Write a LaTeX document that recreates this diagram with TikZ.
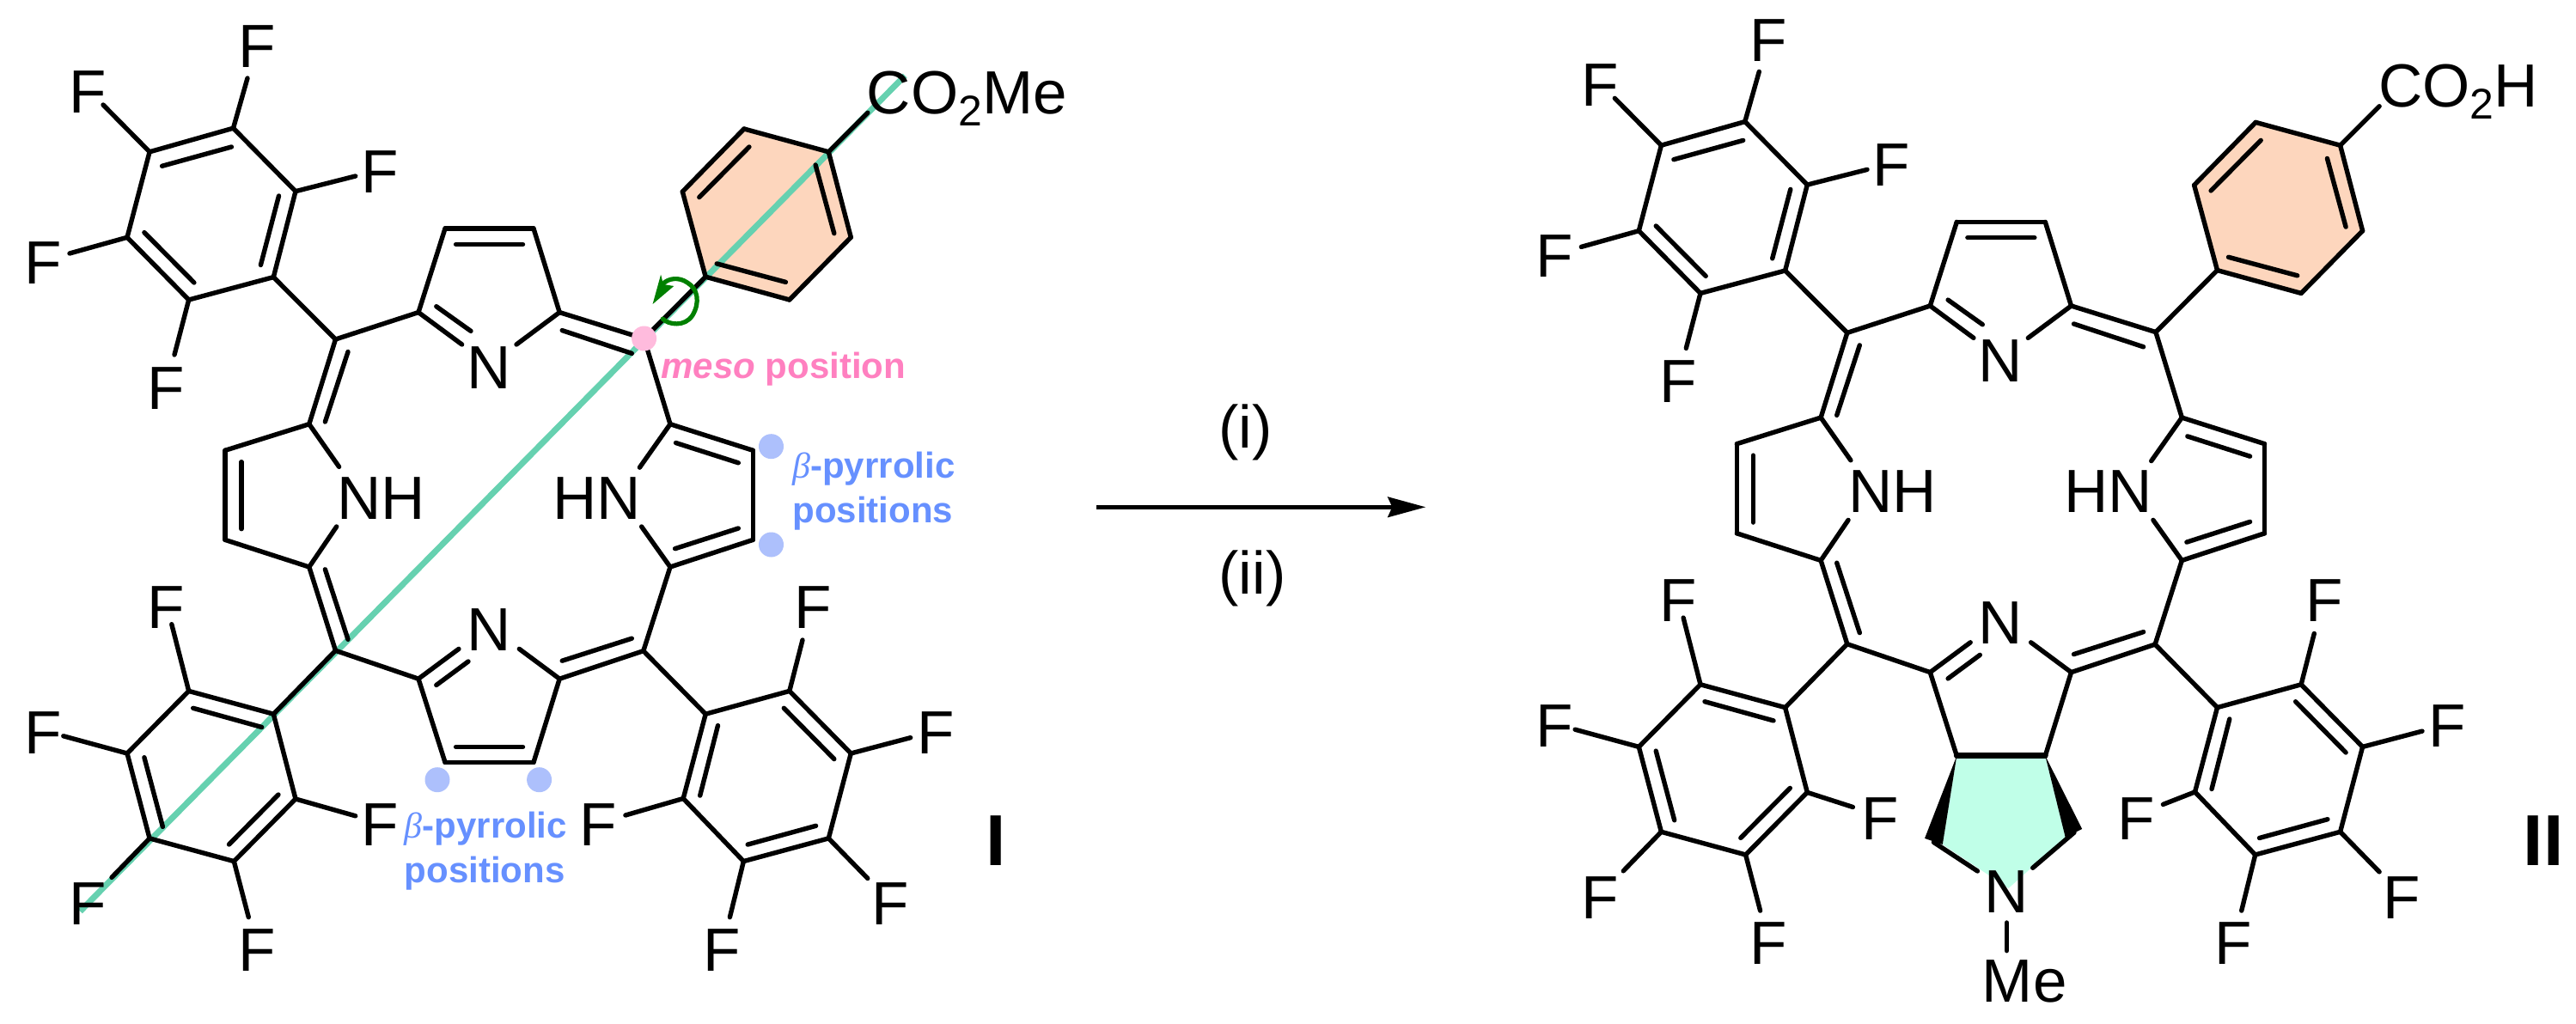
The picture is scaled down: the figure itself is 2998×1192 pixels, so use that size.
\documentclass[tikz,border=0pt]{standalone}
\usepackage{fontspec}
\setmainfont{Liberation Sans}
\newfontfamily\betafont{Liberation Serif}
\usetikzlibrary{arrows.meta}
\definecolor{tealline}{HTML}{66D1B0}
\definecolor{rotgreen}{HTML}{008000}
\definecolor{ringorange}{HTML}{FDD6BD}
\definecolor{ringmint}{HTML}{C0FFE8}
\definecolor{mesotext}{HTML}{FF80C0}
\definecolor{mesodot}{HTML}{FFBBDD}
\definecolor{betatext}{HTML}{6690FF}
\definecolor{betadot}{HTML}{ADC0FC}
\tikzset{
  bond/.style={line width=2.7pt,line cap=round,line join=round},
  atom/.style={inner sep=0pt,font=\fontsize{35.5}{40}\selectfont},
  atomtext/.style={atom,anchor=base west},
  tag/.style={inner sep=0pt,anchor=center,font=\fontsize{42}{48}\selectfont\bfseries},
  cond/.style={inner sep=0pt,anchor=base,font=\fontsize{35}{40}\selectfont},
  mesolabel/.style={inner sep=0pt,anchor=base west,text=mesotext,font=\fontsize{21}{26}\selectfont\bfseries},
  betalabel/.style={inner sep=0pt,anchor=north west,align=left,text=betatext,font=\fontsize{21}{26}\selectfont\bfseries},
  mesospot/.style={circle,fill=mesodot,inner sep=0pt,minimum size=14.5pt},
  betaspot/.style={circle,fill=betadot,inner sep=0pt,minimum size=14.5pt},
}
\newcommand\mybeta{{\betafont\itshape\mdseries β}}
\newcommand\porphatoms[1]{%
  \foreach \n/\x/\y in {
    a1/271.5/149.2,a2/344/222.7,a3/318.3/322.6,a4/219.7/349,a5/148/276.3,a6/174.1/176.8,
    eA1/288/91,eA6/120/122,eA2/413.7/205,eA5/81/295,eA4/203/413,
    FA1/299/54.5,FA6/102.4/107,FA2/442/200,FA5/49.7/306,FA4/193.6/451.6,
    m1/390.5/395,p1/487/363.6,p2/518/266,p3/621/266,p4/651.2/363.6,
    nP1/537.6/401,nP4/601/401,NP/568.7/428,
    b1/359.8/493.7,b2/262/524.3,b3/262/628.4,b4/359.8/660,
    nB1/394.6/543.4,nB4/391.7/613,NH/443.5/580,
    m2/390.5/757.3,
    c1/318.3/831.2,c2/219.7/804.4,c3/148/877,c4/174.1/975.9,c5/272.3/1002.6,c6/344/930,
    eC2/199.8/726.7,eC3/73.8/856.8,eC4/130/1021.4,eC5/289.3/1067.7,
    FC2/193.6/706.8,FC3/49.7/853,FC4/102.4/1052.4,FC5/299.3/1105.6,
    p5/487/790.2,p6/518/887.4,p7/621/887.4,p8/651.2/790.2,
    nQ5/533.9/755.4,nQ8/604.3/755.4,NQ/568.7/732.8,
    m3/749.6/394.2,m4/748.8/757.7,
    d1/821.2/322.2,d2/794.3/223.1,d3/865.9/150,d4/964.3/176.8,d5/990.3/276.3,d6/918.8/349,
    eD4/1009.8/131.3,
    e1/780/493.7,e2/876.3/524.3,e3/876.3/628.4,e4/780/660,
    nE1/744.4/544.2,nE4/746.6/613,HN/694.3/580,
    r1/821.2/831.2,r2/918.8/804.4,r3/990.3/877,r4/964.3/975.9,r5/865.4/1002.6,r6/795.2/929.5,
    eR2/934/745,eR3/1059.7/858.7,eR4/1009.8/1022.5,eR5/849.4/1067.7,
    FR2/945.7/706.8,FR3/1088.8/853,FR4/1036.3/1052.4,FR5/839.8/1105.6,
    iA1/188.6/193.3,iA2/269.4/171,iB1/324.5/228,iB2/303.4/308.5,iC1/167.9/270.6,iC2/225.9/329,
    iD1/507.8/356.7,iD2/548/385.4,iE1/530.6/284.4,iE2/608.5/284.4,
    iF1/405/409.5,iF2/378.4/491,iG1/281/537.7,iG2/281/615.7,iH1/378.4/662.8,iH2/405/744.3,
    iJ1/224.7/824.3,iJ2/304.7/846.5,iK1/167.9/881.7,iK2/189.4/962.4,iL1/266.5/983,iL2/324/925,
    iM1/507.8/797.5,iM2/545/770,
    iN1/654.2/384.6,iN2/735.3/411.4,iO1/813.8/229.6,iO2/871.9/171,iP1/949.1/192,iP2/970.8/271.7,
    iQ1/914.4/328.4,iQ2/834.2/306.9,iR1/786.5/515.5,iR2/859.3/538.8,iS1/785.6/638.7,iS2/859.3/615,
    iT1/654.2/769.2,iT2/735.3/743.2,
    iU1/912.3/824.3,iU2/970.8/883.6,iV1/949.6/961.3,iV2/870.2/983.1,iW1/814.7/926.1,iW2/835.5/844.6%
  }{\coordinate (#1\n) at (\x,\y);}%
}
\newcommand\porphbonds[1]{%
  \foreach \s/\t in {
    a1/a2,a2/a3,a3/a4,a4/a5,a5/a6,a6/a1,a1/eA1,a6/eA6,a2/eA2,a5/eA5,a4/eA4,a3/m1,
    m1/p1,p1/p2,p2/p3,p3/p4,p1/nP1,p4/nP4,p4/m3,
    m1/b1,b1/b2,b2/b3,b3/b4,b1/nB1,b4/nB4,b4/m2,m2/c1,m2/p5,
    c1/c2,c2/c3,c3/c4,c4/c5,c5/c6,c6/c1,c2/eC2,c3/eC3,c4/eC4,c5/eC5,
    p5/p6,p6/p7,p7/p8,p5/nQ5,p8/nQ8,p8/m4,
    m4/e4,e4/e3,e3/e2,e2/e1,e1/m3,e1/nE1,e4/nE4,
    m4/r1,r1/r2,r2/r3,r3/r4,r4/r5,r5/r6,r6/r1,r2/eR2,r3/eR3,r4/eR4,r5/eR5,
    d1/d2,d2/d3,d3/d4,d4/d5,d5/d6,d6/d1,m3/d1,d4/eD4,
    iA1/iA2,iB1/iB2,iC1/iC2,iD1/iD2,iE1/iE2,iF1/iF2,iG1/iG2,iH1/iH2,iJ1/iJ2,iK1/iK2,iL1/iL2,
    iM1/iM2,iN1/iN2,iO1/iO2,iP1/iP2,iQ1/iQ2,iR1/iR2,iS1/iS2,iT1/iT2,iU1/iU2,iV1/iV2,iW1/iW2%
  }{\draw[bond] (#1\s) -- (#1\t);}%
}
\newcommand\porphlabels[1]{%
  \foreach \f in {FA1,FA6,FA2,FA5,FA4,FC2,FC3,FC4,FC5,FR2,FR3,FR4,FR5}{%
    \node[atom] (#1lbl\f) at (#1\f) {F};}%
  \node[atom] (#1lblNP) at (#1NP) {N};
  \node[atom] (#1lblNQ) at (#1NQ) {N};
  \node[atom] (#1lblNH) at (#1NH) {NH};
  \node[atom] (#1lblHN) at (#1HN) {HN};
}
\begin{document}
\begin{tikzpicture}[x=0.5pt,y=-0.5pt]
\useasboundingbox (0,0) rectangle (2998,1192);
\fill[white] (0,0) rectangle (2998,1192);
\begin{scope}\porphatoms{I}\end{scope}
\begin{scope}[shift={(1759.3,-7.6)}]\porphatoms{II}\end{scope}
% compound I
\fill[ringorange] (Id1)--(Id2)--(Id3)--(Id4)--(Id5)--(Id6)--cycle;
\coordinate (axisA) at (93.3,1060.8);
\coordinate (axisB) at (1053.2,88);
\draw[tealline,line width=3.5pt] (axisA) -- (axisB);
\porphbonds{I}
\coordinate (IiX1) at (530.6,869.5);
\coordinate (IiX2) at (608.5,869.5);
\draw[bond] (IiX1) -- (IiX2);
\coordinate (IeC6) at (413.7,949.8);
\coordinate (IeR6) at (727.9,949);
\draw[bond] (Ic6) -- (IeC6);
\draw[bond] (Ir6) -- (IeR6);
\node[atom] (IFC6) at (442.3,960) {F};
\node[atom] (IFR6) at (696,960) {F};
\draw[rotgreen,line width=2.6pt,line cap=round]
  (771.3,371.2) .. controls (778,378) and (797,381) .. (806,367)
  .. controls (815,352) and (812,336) .. (800,329)
  .. controls (790,322) and (778,324) .. (772,330);
\fill[rotgreen] (759.6,354) -- (769.1,319.6) -- (772,331) -- (784.3,333) -- cycle;
\node[mesospot] (mesoDot) at (749.6,394) {};
\node[betaspot] (beta1) at (897.5,519.7) {};
\node[betaspot] (beta2) at (897.5,634) {};
\node[betaspot] (beta3) at (509,907.7) {};
\node[betaspot] (beta4) at (627.6,907.7) {};
\porphlabels{I}
\node[atomtext] (coMe) at (1008.5,133) {CO\raisebox{-7pt}{\fontsize{25}{25}\selectfont 2}Me};
\node[mesolabel] (mesoText) at (769,441) {{\itshape meso} position};
\node[betalabel] (betaA) at (922,526) {\mybeta-pyrrolic\\positions};
\node[betalabel] (betaB) at (470.5,945) {\mybeta-pyrrolic\\positions};
\node[tag] (labI) at (1159,979) {I};
% reaction arrow
\coordinate (arrS) at (1276,590.3);
\coordinate (arrE) at (1659.3,590.3);
\draw[line width=2.5pt,-{Stealth[length=22pt,width=11.7pt,inset=2.5pt]}] (arrS) -- (arrE);
\node[cond] (condA) at (1449.5,521) {(i)};
\node[cond] (condB) at (1457.5,691.7) {(ii)};
% compound II
\fill[ringorange] (IId1)--(IId2)--(IId3)--(IId4)--(IId5)--(IId6)--cycle;
\fill[ringmint] (IIp6)--(IIp7)--(2403.8,974.7)--(2337.5,1034)--(2260.8,983)--cycle;
\porphbonds{II}
\draw[bond,line width=3.4pt] (IIp6) -- (IIp7);
\coordinate (IIeC6) at (2156.4,939.5);
\coordinate (IIeR6) at (2517.4,936.4);
\draw[bond] (IIc6) -- (IIeC6);
\draw[bond] (IIr6) -- (IIeR6);
\node[atom] (IIFC6) at (2188,952.7) {F};
\node[atom] (IIFR6) at (2486,952.7) {F};
\fill[black,line join=round] (IIp6) -- (2240,975.9) -- (2260.8,983) -- cycle;
\fill[black,line join=round] (IIp7) -- (2403.7,974.7) -- (2423.2,965) -- cycle;
\coordinate (wedgeL) at (2250.4,980.4);
\coordinate (wedgeR) at (2414,969);
\coordinate (pyrL) at (2301.4,1014);
\coordinate (pyrR) at (2365.7,1010.3);
\draw[bond] (wedgeL) -- (pyrL);
\draw[bond] (wedgeR) -- (pyrR);
\coordinate (meA) at (2335.4,1074);
\coordinate (meB) at (2335.4,1106.7);
\draw[bond] (meA) -- (meB);
\porphlabels{II}
\node[atom] (pyrN) at (2335.4,1037.8) {N};
\node[atomtext] (pyrMe) at (2306.5,1166) {Me};
\node[atomtext] (coH) at (2768,124.4) {CO\raisebox{-7pt}{\fontsize{25}{25}\selectfont 2}H};
\node[tag] (labII) at (2960,979) {II};
\end{tikzpicture}
\end{document}
